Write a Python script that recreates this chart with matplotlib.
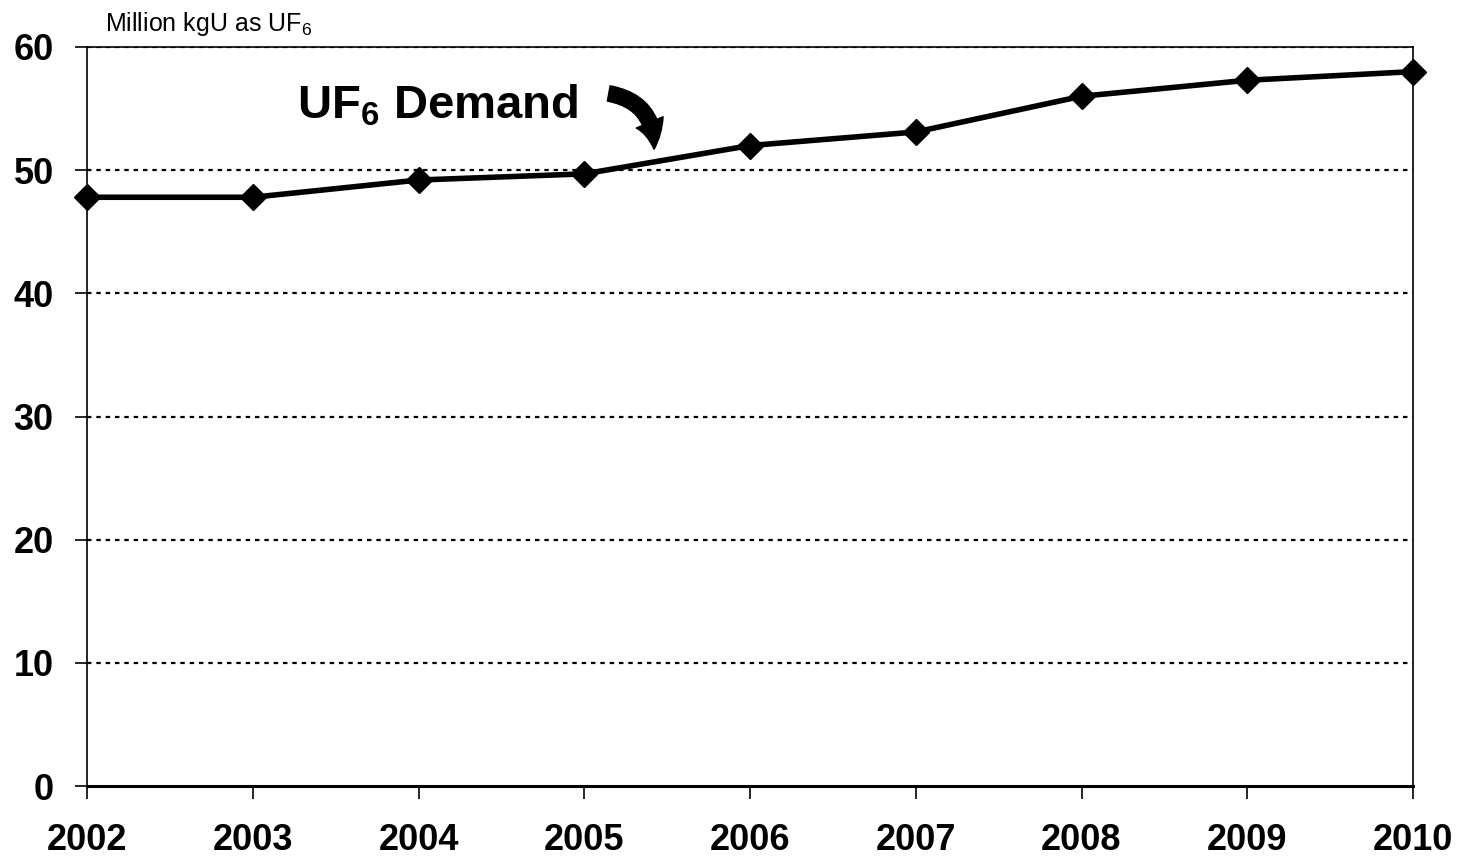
import matplotlib
matplotlib.use("Agg")
import matplotlib.pyplot as plt
from matplotlib.patches import FancyArrowPatch

years = [2002, 2003, 2004, 2005, 2006, 2007, 2008, 2009, 2010]
demand = [47.8, 47.8, 49.2, 49.7, 52.0, 53.1, 56.0, 57.3, 58.0]
yticks = [0, 10, 20, 30, 40, 50, 60]
unit_label = "Million kgU as UF$_6$"
series_label = r"UF$_\mathbf{6}$ Demand"

plt.rcParams['font.family'] = ['Liberation Sans', 'DejaVu Sans']
plt.rcParams['mathtext.fontset'] = 'custom'
plt.rcParams['mathtext.rm'] = 'Liberation Sans'
plt.rcParams['mathtext.bf'] = 'Liberation Sans:bold'

W, H = 1463, 861
fig = plt.figure(figsize=(W / 100, H / 100), dpi=100)
ax = fig.add_axes([87/W, 1-786/H, (1413-87)/W, (786-47)/H])

ax.set_xlim(years[0], years[-1])
ax.set_ylim(0, 60)
for y in yticks[1:]:
    ax.axhline(y, color='black', lw=1.6, ls=(0, (2, 2.2)), zorder=1)

ax.plot(years, demand, color='black', lw=4, marker='D', ms=13,
        mec='black', mfc='black', zorder=3, clip_on=False)

ax.set_xticks(years)
ax.set_xticklabels([str(y) for y in years], fontsize=26, fontweight='bold')
ax.set_yticks(yticks)
ax.set_yticklabels([str(v) for v in yticks], fontsize=26, fontweight='bold')
ax.tick_params(axis='both', direction='out', length=9, width=1.2, color='black')
ax.tick_params(axis='x', pad=18)
ax.tick_params(axis='y', pad=15)

for side in ['left', 'right', 'top']:
    ax.spines[side].set_linewidth(1.2)
ax.spines['bottom'].set_linewidth(2.2)

fig.text(105/W, 1-31/H, unit_label, fontsize=18, ha='left', va='baseline')

fig.text(297/W, 1-118/H, series_label, fontsize=34, fontweight='bold',
         ha='left', va='baseline')

arrow = FancyArrowPatch((606, H - 93), (654, H - 152), transform=None,
                        connectionstyle="arc3,rad=-0.45",
                        arrowstyle="simple,head_width=1.5,head_length=1.4,tail_width=0.8",
                        mutation_scale=14, color='black', zorder=5)
fig.patches.append(arrow)

fig.savefig("out.png", dpi=100)
